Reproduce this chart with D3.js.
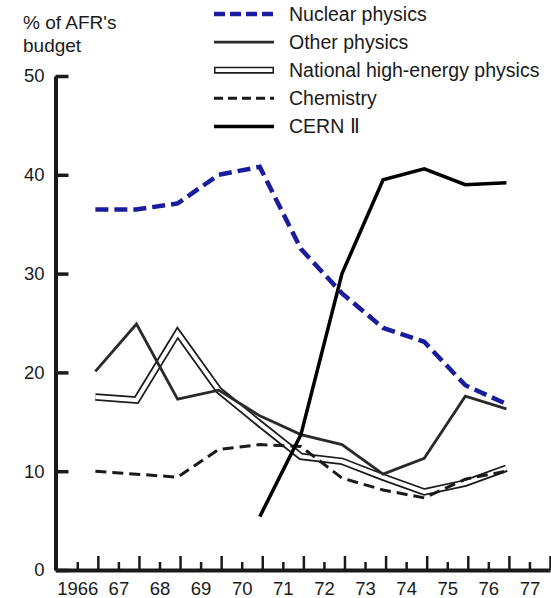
<!DOCTYPE html>
<html>
<head>
<meta charset="utf-8">
<script src="https://cdn.jsdelivr.net/npm/d3@7"></script>
<style>
  html, body { margin: 0; padding: 0; background: #fff; }
  svg { display: block; font-family: "Liberation Sans", Arial, Helvetica, sans-serif; }
</style>
</head>
<body>
<svg id="chart" width="551" height="598"></svg>
<script>
// ---- data ----
const years = [1966, 1967, 1968, 1969, 1970, 1971, 1972, 1973, 1974, 1975, 1976];
const yearLabels = ["1966", "67", "68", "69", "70", "71", "72", "73", "74", "75", "76", "77"];
const labelYears = [1966, 1967, 1968, 1969, 1970, 1971, 1972, 1973, 1974, 1975, 1976, 1977];
const yTicks = [0, 10, 20, 30, 40, 50];

const nuclearPhysics   = [36.5, 36.5, 37.1, 40.0, 40.8, 32.5, 28.0, 24.5, 23.1, 18.7, 16.8];
const otherPhysics     = [20.1, 24.9, 17.3, 18.2, 15.6, 13.7, 12.7, 9.7, 11.3, 17.6, 16.3];
const nationalHEP      = [17.5, 17.2, 24.0, 18.2, 14.8, 11.5, 11.0, 9.4, 7.9, 8.8, 10.3];
const chemistry        = [10.0, 9.7, 9.4, 12.2, 12.7, 12.5, 9.3, 8.1, 7.3, 9.2, 10.0];
const cernII           = [null, null, null, null, 5.4, 13.7, 30.0, 39.5, 40.6, 39.0, 39.2];

const seriesNames = ["Nuclear physics", "Other physics", "National high-energy physics", "Chemistry", "CERN \u2161"];
const axisTitle = ["% of AFR's", "budget"];

// ---- layout ----
const svg = d3.select("#chart");
const x = d3.scaleLinear().domain([1965.47, 1977.5]).range([55.5, 550]);
const y = d3.scaleLinear().domain([0, 50]).range([570, 76]);
const pointOffset = 0.44; // data drawn at the year boundaries

const FONT = "'Liberation Sans', Arial, Helvetica, sans-serif";
const INK = "#1a1a1a";
const BLUE = "#1b1b9e";

// ---- axes ----
const yAxis = d3.axisLeft(y).tickValues(yTicks).tickSize(-13).tickSizeOuter(0).tickPadding(11)
  .tickFormat(d3.format("d"));
const gy = svg.append("g").attr("transform", `translate(${x.range()[0]},0)`).call(yAxis);
gy.select(".domain").attr("stroke", INK).attr("stroke-width", 4);
gy.selectAll(".tick line").attr("stroke", INK).attr("stroke-width", 3.5);
gy.selectAll(".tick text").attr("font-size", 18.5).attr("font-family", FONT).attr("fill", INK);

// major ticks (year boundaries)
const boundaries = labelYears.map(d => d + 0.5);
const xMajor = d3.axisBottom(x).tickValues(boundaries).tickSize(-14).tickSizeOuter(0).tickFormat("");
const gxM = svg.append("g").attr("transform", `translate(0,${y(0)})`).call(xMajor);
gxM.selectAll(".tick line").attr("stroke", INK).attr("stroke-width", 2.5);
gxM.select(".domain").attr("stroke", INK).attr("stroke-width", 4);

// minor ticks with labels (year centres)
const xMinor = d3.axisBottom(x).tickValues(labelYears).tickSize(-8).tickSizeOuter(0).tickPadding(12)
  .tickFormat((d, i) => yearLabels[i]);
const gx = svg.append("g").attr("transform", `translate(0,${y(0)})`).call(xMinor);
gx.select(".domain").remove();
gx.selectAll(".tick line").attr("stroke", INK).attr("stroke-width", 2.5);
gx.selectAll(".tick text").attr("font-size", 18.5).attr("font-family", FONT).attr("fill", INK);

// ---- lines ----
const line = d3.line()
  .defined(d => d != null)
  .x((d, i) => x(years[i] + pointOffset))
  .y(d => y(d));

const plot = svg.append("g").attr("fill", "none").attr("stroke-linejoin", "miter");

// national high-energy physics: double line
plot.append("path").attr("d", line(nationalHEP)).attr("stroke", INK).attr("stroke-width", 7.5);
plot.append("path").attr("d", line(nationalHEP)).attr("stroke", "#fff").attr("stroke-width", 4);

plot.append("path").attr("d", line(otherPhysics)).attr("stroke", "#2a2a2a").attr("stroke-width", 2.8);
plot.append("path").attr("d", line(chemistry)).attr("stroke", INK).attr("stroke-width", 3)
  .attr("stroke-dasharray", "11,6");
plot.append("path").attr("d", line(nuclearPhysics)).attr("stroke", BLUE).attr("stroke-width", 4.5)
  .attr("stroke-dasharray", "13,6");
plot.append("path").attr("d", line(cernII)).attr("stroke", "#000").attr("stroke-width", 3.5)
  .attr("stroke-linecap", "butt");

// ---- axis title ----
svg.append("g").selectAll("text").data(axisTitle).join("text")
  .attr("x", 23).attr("y", (d, i) => 22 + i * 23).attr("dy", "0.35em")
  .attr("font-size", 19).attr("font-family", FONT).attr("fill", INK).text(d => d);

// ---- legend ----
const legendStyles = [
  { stroke: BLUE, width: 4.5, dash: "11,5" },
  { stroke: "#2a2a2a", width: 2.8, dash: null },
  { stroke: INK, width: 7, dash: null, dbl: true },
  { stroke: INK, width: 3, dash: "9,5" },
  { stroke: "#000", width: 3.5, dash: null }
];
const lg = svg.append("g");
const rows = lg.selectAll("g").data(seriesNames).join("g")
  .attr("transform", (d, i) => `translate(0,${14 + i * 28.1})`);
rows.append("line").attr("x1", 214).attr("x2", 274).attr("y1", 0).attr("y2", 0)
  .attr("stroke", (d, i) => legendStyles[i].stroke)
  .attr("stroke-width", (d, i) => legendStyles[i].width)
  .attr("stroke-dasharray", (d, i) => legendStyles[i].dash);
rows.filter((d, i) => legendStyles[i].dbl).append("line")
  .attr("x1", 215.5).attr("x2", 272.5).attr("y1", 0).attr("y2", 0)
  .attr("stroke", "#fff").attr("stroke-width", 3.8);
rows.append("text").attr("x", 289).attr("y", 0).attr("dy", "0.35em")
  .attr("font-size", 19.5).attr("font-family", FONT).attr("fill", INK).text(d => d);
</script>
</body>
</html>
